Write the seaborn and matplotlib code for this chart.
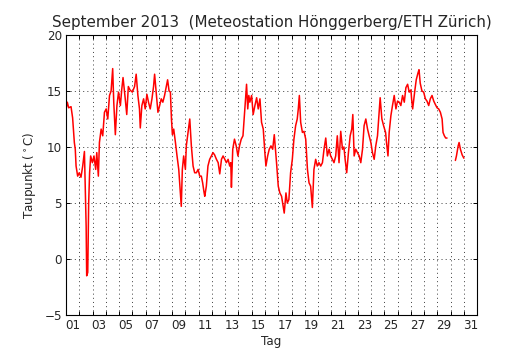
import numpy as np
import pandas as pd
import matplotlib
matplotlib.use("Agg")
import matplotlib.pyplot as plt
import seaborn as sns

# Dew point, Sept 2013; x = days since 1 Sep 00:00
tag = [0.0, 0.1, 0.2, 0.38, 0.5, 0.63, 0.7, 0.76, 0.88, 1.0, 1.13, 1.26, 1.39, 1.46, 1.52,
       1.56, 1.64, 1.71, 1.78, 1.86, 1.99, 2.11, 2.24, 2.32, 2.44, 2.52, 2.65, 2.77, 2.90,
       3.03, 3.15, 3.28, 3.40, 3.52, 3.60, 3.72, 3.84, 3.96, 4.10, 4.20, 4.30, 4.45, 4.58,
       4.70, 4.82, 5.00, 5.10, 5.17, 5.29, 5.42, 5.54, 5.60, 5.72, 5.85, 5.97, 6.10, 6.22,
       6.35, 6.48, 6.60, 6.68, 6.80, 6.93, 7.06, 7.18, 7.30, 7.43, 7.56, 7.66, 7.77, 7.87,
       7.95, 8.02, 8.12, 8.25, 8.37, 8.50, 8.62, 8.69, 8.77, 8.87, 9.00, 9.07, 9.20, 9.33,
       9.45, 9.58, 9.70, 9.83, 9.96, 10.08, 10.20, 10.30, 10.40, 10.46, 10.58, 10.70, 10.83,
       10.96, 11.08, 11.20, 11.34, 11.47, 11.59, 11.72, 11.84, 11.97, 12.09, 12.22, 12.34,
       12.42, 12.47, 12.57, 12.70, 12.83, 12.96, 13.08, 13.21, 13.34, 13.46, 13.61, 13.70,
       13.78, 13.86, 13.99, 14.11, 14.24, 14.37, 14.49, 14.62, 14.74, 14.87, 14.99, 15.07,
       15.20, 15.32, 15.45, 15.58, 15.70, 15.87, 16.00, 16.12, 16.25, 16.37, 16.45, 16.58,
       16.68, 16.80, 16.93, 17.06, 17.18, 17.31, 17.43, 17.51, 17.59, 17.69, 17.82, 17.94,
       18.07, 18.20, 18.32, 18.44, 18.57, 18.69, 18.82, 18.94, 19.07, 19.20, 19.33, 19.45,
       19.58, 19.70, 19.83, 19.95, 20.08, 20.20, 20.33, 20.45, 20.58, 20.71, 20.84, 20.95,
       21.04, 21.16, 21.29, 21.42, 21.54, 21.62, 21.72, 21.84, 21.97, 22.10, 22.22, 22.35,
       22.47, 22.60, 22.73, 22.85, 22.98, 23.10, 23.23, 23.35, 23.48, 23.60, 23.68, 23.81,
       23.94, 24.09, 24.16, 24.27, 24.36, 24.49, 24.61, 24.74, 24.87, 24.99, 25.12, 25.24,
       25.37, 25.50, 25.62, 25.75, 25.87, 26.00, 26.05, 26.13, 26.28, 26.40, 26.53, 26.61,
       26.70, 26.83, 26.96, 27.09, 27.21, 27.34, 27.46, 27.59, 27.72, 27.84, 27.97, 28.09,
       28.22, 28.35, 28.42, 28.52, 28.62, 28.72, 29.00, 29.35, 29.43, 29.56, 29.63, 29.73,
       29.86, 29.99]
taupunkt = [13.4, 14.0, 13.5, 13.6, 12.6, 10.4, 9.8, 8.3, 7.4, 7.7, 7.3, 8.3, 9.6, 5.9, 2.9,
            -1.5, -1.2, 5.0, 7.7, 9.2, 8.6, 9.2, 8.0, 9.5, 7.4, 10.4, 11.6, 11.0, 13.1,
            13.4, 12.5, 14.6, 15.0, 17.0, 14.0, 11.1, 13.7, 14.9, 13.7, 15.1, 16.2, 14.5, 12.9,
            15.4, 15.1, 14.9, 15.2, 15.4, 16.5, 14.6, 13.4, 11.7, 13.7, 14.3, 13.4, 14.7, 14.0,
            13.4, 14.3, 15.4, 16.5, 14.9, 13.1, 13.7, 14.3, 14.0, 14.6, 15.4, 16.0, 15.0, 14.9,
            12.5, 11.1, 11.6, 10.4, 9.2, 8.0, 5.9, 4.7, 8.0, 9.2, 8.0, 10.1, 11.3, 12.5,
            10.1, 8.3, 7.7, 7.7, 8.0, 7.4, 7.4, 6.8, 6.0, 5.6, 6.5, 8.3, 8.9,
            9.2, 9.5, 9.3, 8.9, 8.6, 7.6, 8.9, 9.2, 8.9, 8.6, 8.9, 8.3,
            8.6, 6.4, 9.8, 10.7, 10.1, 9.2, 10.1, 10.7, 11.0, 13.1, 15.6, 13.4,
            14.6, 14.0, 14.6, 12.9, 13.7, 14.4, 13.4, 14.3, 12.2, 11.6, 9.5, 8.3,
            9.2, 9.8, 10.1, 9.8, 11.1, 8.6, 6.5, 5.9, 5.6, 4.7, 4.1, 5.9,
            5.0, 5.3, 7.7, 8.9, 10.7, 11.9, 12.5, 13.4, 14.6, 12.2, 11.3, 11.4,
            10.7, 8.0, 6.8, 6.5, 4.6, 8.0, 8.9, 8.3, 8.6, 8.3, 8.6, 9.8,
            10.8, 9.2, 9.8, 9.2, 8.9, 8.6, 9.2, 11.0, 8.6, 11.4, 9.8, 10.0,
            8.9, 7.7, 9.5, 11.0, 11.6, 12.9, 9.2, 9.8, 9.5, 9.2, 8.6, 9.8,
            11.9, 12.5, 11.6, 11.0, 10.4, 9.5, 8.9, 10.1, 11.0, 13.1, 14.4, 12.5,
            11.9, 11.3, 10.4, 9.2, 11.3, 12.8, 13.7, 14.6, 13.4, 14.1, 14.0, 13.7,
            14.6, 14.0, 15.3, 15.6, 14.9, 15.1, 14.3, 13.4, 14.9, 16.0, 16.6, 16.9,
            15.7, 15.0, 14.9, 14.3, 14.1, 13.7, 14.3, 14.6, 14.1, 13.8, 13.5, 13.4,
            13.1, 12.5, 11.3, 11.0, 10.8, 10.8, np.nan, 8.8, 9.2, 10.1, 10.4, 9.8,
            9.3, 9.0]

tick_pos = np.arange(0.5, 31, 2)
tick_labels = ["%02d" % d for d in range(1, 32, 2)]

df = pd.DataFrame({"Tag": tag, "Taupunkt": taupunkt})
df["segment"] = df["Taupunkt"].isna().cumsum()
df = df.dropna()

sns.set_style("ticks", {
    "xtick.direction": "in", "ytick.direction": "in",
    "axes.edgecolor": "black", "axes.linewidth": 0.9,
})
plt.rcParams["font.family"] = ["DejaVu Sans"]

fig = plt.figure(figsize=(5.3, 3.5), dpi=100)
ax = fig.add_axes([0.1245, 0.1, 0.776, 0.8])

sns.lineplot(data=df, x="Tag", y="Taupunkt", units="segment", estimator=None,
             color="red", linewidth=1.1, ax=ax, legend=False)

ax.set_xlim(0, 31)
ax.set_ylim(-5, 20)
ax.set_yticks(np.arange(-5, 21, 5))
ax.set_xticks(np.arange(1, 31))
ax.set_xticklabels([])
ax.set_xticks(tick_pos, minor=True)
ax.set_xticklabels(tick_labels, minor=True)

ax.tick_params(axis="both", which="major", direction="in", length=3, width=0.7,
               top=True, right=True, labelsize=8.6, pad=2.9, color="black")
ax.tick_params(axis="x", which="minor", length=0, labelsize=8.6, pad=2.9)
ax.grid(True, which="major", color="black", linestyle=(0, (1.5, 4.5)), linewidth=0.5)

ax.set_xlabel("Tag", fontsize=8.6, labelpad=2)
ax.set_ylabel(r"Taupunkt ($^\circ$C)", fontsize=8.6, labelpad=5)
ax.set_title(u"September 2013  (Meteostation Hönggerberg/ETH Zürich)", fontsize=10.9, pad=5.5)

fig.savefig("out.png", dpi=100)
